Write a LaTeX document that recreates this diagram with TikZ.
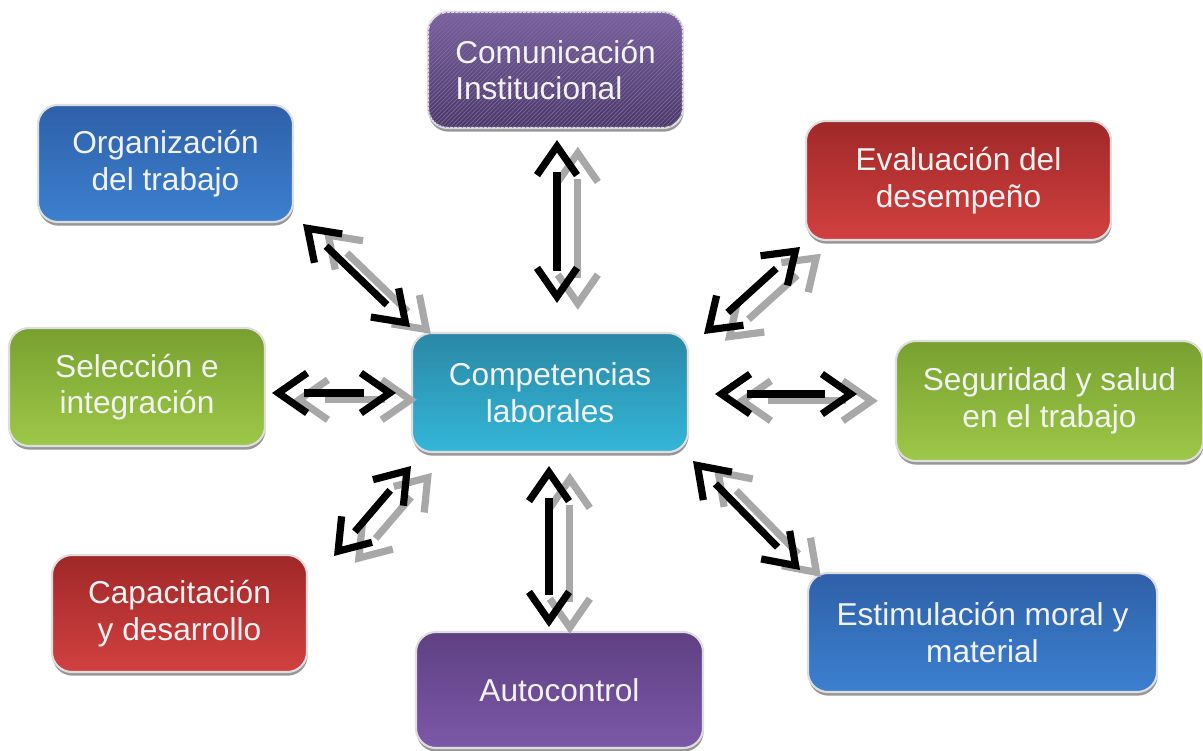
\documentclass[tikz,border=0pt]{standalone}
\usepackage{fontspec}
\setsansfont{Liberation Sans}
\usetikzlibrary{arrows.meta}
\usetikzlibrary{shadows}
\usetikzlibrary{patterns}

\definecolor{rim}{RGB}{222,222,222}
\definecolor{arrgray}{RGB}{168,168,168}
\definecolor{purpletop}{RGB}{122,97,160}
\definecolor{purplebot}{RGB}{74,56,102}
\definecolor{purplehatch}{RGB}{128,108,160}
\definecolor{violettop}{RGB}{94,64,130}
\definecolor{violetbot}{RGB}{124,88,168}
\definecolor{bluetop}{RGB}{46,96,168}
\definecolor{bluebot}{RGB}{60,128,208}
\definecolor{redtop}{RGB}{160,40,40}
\definecolor{redbot}{RGB}{210,64,64}
\definecolor{greentop}{RGB}{120,160,48}
\definecolor{greenbot}{RGB}{158,200,72}
\definecolor{tealtop}{RGB}{42,136,165}
\definecolor{tealbot}{RGB}{52,182,216}

\tikzstyle{card}=[%
  draw=rim,
  line width=1.5pt,
  rounded corners=0.5cm,
  minimum height=2.95cm,
  minimum width=6.4cm,
  align=center,
  text=white!95!black,
  font=\sffamily\fontsize{22.5}{26}\selectfont,
  drop shadow={shadow xshift=0.4pt, shadow yshift=-2.6pt, fill=black!45, opacity=0.9}
]
\tikzstyle{hatched}=[postaction={pattern=north east lines, pattern color=purplehatch}]
\tikzstyle{shaft}=[line width=0.18cm, shorten <=0.8cm, shorten >=0.8cm]
\tikzstyle{barbs}=[%
  tips,
  line width=0.18cm,
  line join=miter,
  {Straight Barb[length=0.72cm,width=1cm]}-{Straight Barb[length=0.72cm,width=1cm]}
]
\tikzstyle{greyed}=[color=arrgray, transform canvas={xshift=0.52cm, yshift=-0.17cm}]

\begin{document}
\begin{tikzpicture}[x=0.025cm, y=-0.025cm]
      \useasboundingbox (0,0) rectangle (1203,750);
      \node[card, hatched, top color=purpletop, bottom color=purplebot, align=left, minimum width=6.375cm, minimum height=2.9cm] (com) at (555.5,70) {Comunicación\\Institucional};
      \node[card, top color=bluetop, bottom color=bluebot, minimum width=6.375cm, minimum height=2.925cm] (org) at (165.5,163.5) {Organización\\del trabajo};
      \node[card, top color=redtop, bottom color=redbot, minimum width=7.625cm, minimum height=2.975cm] (eval) at (958.5,180.5) {Evaluación del\\desempeño};
      \node[card, top color=greentop, bottom color=greenbot, minimum width=6.4cm] (sel) at (137,387) {Selección e\\integración};
      \node[card, top color=tealtop, bottom color=tealbot, minimum width=6.9cm, minimum height=2.975cm] (comp) at (550,392.5) {Competencias\\laborales};
      \node[card, top color=greentop, bottom color=greenbot, minimum width=7.675cm, minimum height=3cm] (seg) at (1049.5,401) {Seguridad y salud\\en el trabajo};
      \node[card, top color=redtop, bottom color=redbot, minimum width=6.375cm, minimum height=2.925cm] (cap) at (179.5,613.5) {Capacitación\\y desarrollo};
      \node[card, top color=violettop, bottom color=violetbot, minimum width=7.175cm, minimum height=2.9cm] (auto) at (559.5,690) {Autocontrol};
      \node[card, top color=bluetop, bottom color=bluebot, minimum width=8.725cm, minimum height=2.975cm] (est) at (982.5,632.5) {Estimulación moral y\\material};
      \foreach \n/\xa/\ya/\xb/\yb in {com/557/140/557/303, org/303/224/410/327, eval/800/247/704/334, sel/272/393/396/393, seg/715/394/857/394, cap/334/556/411/466, auto/549/466/549/627, est/693/461/800/570} {%
        \coordinate (\n-a) at (\xa,\ya);
        \coordinate (\n-b) at (\xb,\yb);
      }
      \foreach \n in {com,org,eval,sel,seg,cap,auto,est} {%
        \draw[shaft, greyed] (\n-a) -- (\n-b);
        \path[barbs, greyed] (\n-a) -- (\n-b);
      }
      \foreach \n in {com,org,eval,sel,seg,cap,auto,est} {%
        \draw[shaft] (\n-a) -- (\n-b);
        \path[barbs] (\n-a) -- (\n-b);
      }
    \end{tikzpicture}
\end{document}
